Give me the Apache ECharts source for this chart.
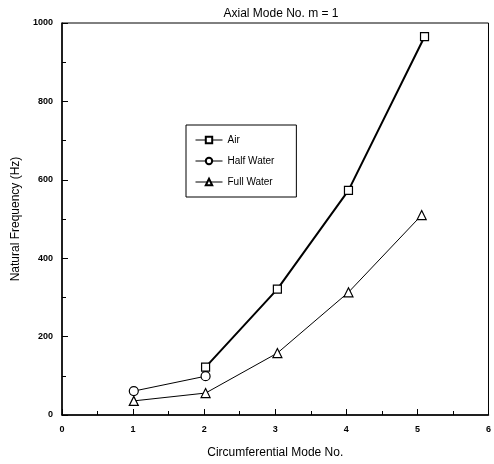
<!DOCTYPE html>
<html>
<head>
<meta charset="utf-8">
<script src="https://cdn.jsdelivr.net/npm/echarts@6/dist/echarts.min.js"></script>
<style>
  html, body { margin: 0; padding: 0; background: #fff; }
  #chart { width: 494px; height: 464px; }
</style>
</head>
<body>
<div id="chart"></div>
<script>
// values
var airX = [2.02, 3.03, 4.03, 5.1]
var airY = [122, 321, 573, 965]
var halfX = [1.01, 2.02]
var halfY = [61, 99]
var fullX = [1.01, 2.02, 3.03, 4.03, 5.06]
var fullY = [36, 56, 158, 313, 510]

function pairs (xs, ys) {
  return xs.map(function (x, i) { return [x, ys[i]] })
}

var font = 'Liberation Sans, Arial, sans-serif'
var chart = echarts.init(document.getElementById('chart'))

var option = {
  animation: false,
  backgroundColor: '#fff',
  title: {
    text: 'Axial Mode No. m = 1',
    left: 276,
    top: 3,
    textAlign: 'center',
    textStyle: { fontFamily: font, fontSize: 12, fontWeight: 'normal', color: '#000' }
  },
  legend: {
    orient: 'vertical',
    left: 186,
    top: 125,
    width: 110,
    padding: [10, 22, 10, 9],
    itemGap: 11,
    itemWidth: 27,
    itemHeight: 8,
    borderColor: '#000',
    borderWidth: 1,
    lineStyle: { width: 1 },
    textStyle: { fontFamily: font, fontSize: 10, color: '#000' },
    data: ['Air', 'Half Water', 'Full Water']
  },
  grid: {
    left: 62,
    right: 5,
    top: 23,
    bottom: 49,
    show: true,
    borderColor: '#000',
    borderWidth: 1
  },
  xAxis: {
    type: 'value',
    min: 0,
    max: 6,
    interval: 1,
    name: 'Circumferential Mode No.',
    nameLocation: 'middle',
    nameGap: 32,
    nameTextStyle: { fontFamily: font, fontSize: 12, color: '#000' },
    axisLine: { lineStyle: { color: '#000', width: 1.5 } },
    axisTick: { inside: true, length: 6, lineStyle: { color: '#000' } },
    minorTick: { show: true, splitNumber: 2, length: 4, lineStyle: { color: '#000' } },
    splitLine: { show: false },
    axisLabel: { fontFamily: font, fontSize: 9, fontWeight: 'bold', color: '#000', margin: 10 }
  },
  yAxis: {
    type: 'value',
    min: 0,
    max: 1000,
    interval: 200,
    name: 'Natural Frequency (Hz)',
    nameLocation: 'middle',
    nameGap: 39,
    nameTextStyle: { fontFamily: font, fontSize: 12, color: '#000' },
    axisLine: { show: true, lineStyle: { color: '#000', width: 1.5 } },
    axisTick: { show: true, inside: true, length: 6, lineStyle: { color: '#000' } },
    minorTick: { show: true, splitNumber: 2, length: 4, lineStyle: { color: '#000' } },
    splitLine: { show: false },
    axisLabel: {
      fontFamily: font, fontSize: 9, fontWeight: 'bold', color: '#000', margin: 9,
      formatter: function (v) { return String(v) }
    }
  },
  series: [
    {
      name: 'Air',
      type: 'line',
      data: pairs(airX, airY),
      symbol: 'rect',
      symbolSize: 8,
      itemStyle: { color: '#fff', borderColor: '#000', borderWidth: 1.2 },
      lineStyle: { color: '#000', width: 2 }
    },
    {
      name: 'Half Water',
      type: 'line',
      data: pairs(halfX, halfY),
      symbol: 'circle',
      symbolSize: 9,
      itemStyle: { color: '#fff', borderColor: '#000', borderWidth: 1.2 },
      lineStyle: { color: '#000', width: 1 }
    },
    {
      name: 'Full Water',
      type: 'line',
      data: pairs(fullX, fullY),
      symbol: 'triangle',
      symbolSize: 9,
      itemStyle: { color: '#fff', borderColor: '#000', borderWidth: 1.2 },
      lineStyle: { color: '#000', width: 1 }
    }
  ]
}

chart.setOption(option)
</script>
</body>
</html>
